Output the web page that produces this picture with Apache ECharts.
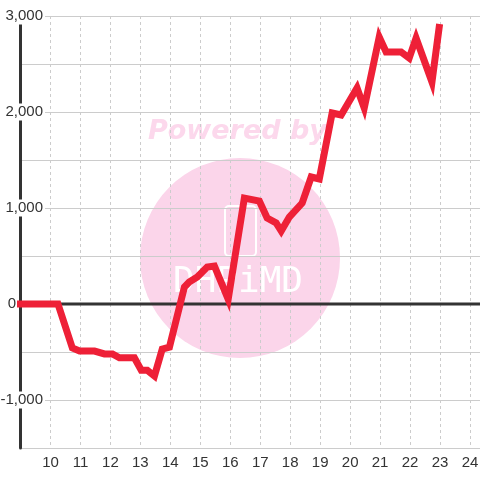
<!DOCTYPE html>
<html>
<head>
<meta charset="utf-8">
<script src="https://cdn.jsdelivr.net/npm/echarts@6/dist/echarts.min.js"></script>
<style>
  html, body { margin: 0; padding: 0; background: #fff; }
  #chart { width: 480px; height: 480px; }
</style>
</head>
<body>
<div id="chart"></div>
<script>
// x positions of each point and the running value at that point
const weekX = [9, 10.25, 10.73, 10.97, 11.47, 11.8, 12.07, 12.3, 12.8, 13.03, 13.23, 13.47, 13.73, 13.97,
  14.47, 14.63, 14.9, 15.23, 15.47, 15.93, 16.47, 16.97, 17.23, 17.53, 17.7, 17.97, 18.4, 18.7, 18.97,
  19.4, 19.7, 20.23, 20.47, 20.97, 21.2, 21.7, 21.97, 22.2, 22.73, 22.97];
const balance = [0, 0, -458, -490, -490, -520, -520, -560, -560, -690, -690, -750, -470, -450,
  177, 229, 281, 385, 396, 50, 1104, 1073, 896, 844, 760, 906, 1052, 1323, 1302,
  1990, 1969, 2250, 2042, 2781, 2625, 2625, 2562, 2771, 2312, 2880];

const xMin = 9;
const xMax = 24.333;
const yTicks = [-1000, 0, 1000, 2000, 3000];

const chart = echarts.init(document.getElementById("chart"));

const option = {
  animation: false,
  grid: { left: 20.5, right: 0, top: 16, bottom: 32, containLabel: false, outerBoundsMode: "none" },
  graphic: [
    {
      type: "circle",
      z: -10,
      shape: { cx: 240, cy: 258, r: 100 },
      style: { fill: "#fbd5ea" },
    },
    {
      type: "text",
      z: -10,
      x: 148,
      y: 118,
      style: {
        text: "Powered by",
        fill: "#fcd8ec",
        font: "italic bold 27px 'DejaVu Sans'",
      },
    },
    {
      type: "rect",
      z: -9,
      shape: { x: 225, y: 206, width: 31, height: 50, r: 4 },
      style: { fill: "none", stroke: "#fff", lineWidth: 2 },
    },
    {
      type: "text",
      z: -9,
      x: 173,
      y: 265,
      style: {
        text: "DHPiMD",
        fill: "#fff",
        font: "36px 'DejaVu Sans Mono'",
      },
    },
  ],
  xAxis: {
    type: "value",
    min: xMin,
    max: xMax,
    interval: 1,
    axisLine: { show: true, lineStyle: { color: "#ccc", width: 1 } },
    axisTick: { show: false },
    axisLabel: {
      color: "#333",
      fontSize: 15,
      fontFamily: "Liberation Sans",
      margin: 7,
      showMinLabel: false,
      showMaxLabel: false,
      formatter: (v) => (v >= 10 && v <= 24 && Number.isInteger(v) ? String(v) : ""),
    },
    splitLine: { show: true, lineStyle: { color: "#ccc", type: [3, 3], width: 1 } },
  },
  yAxis: {
    type: "value",
    min: -1500,
    max: 3000,
    interval: 500,
    axisLine: { show: true, lineStyle: { color: "#333", width: 3 } },
    axisTick: { show: false },
    axisLabel: {
      inside: true,
      align: "right",
      margin: 24.5,
      formatter: (v) => {
        if (!yTicks.includes(v)) return "";
        if (v === 0) return "{z|0}";
        return "{a|" + v.toLocaleString("en-US") + "}";
      },
      rich: {
        a: {
          color: "#333",
          fontSize: 15,
          fontFamily: "Liberation Sans",
          backgroundColor: "#fff",
          padding: [1, 2, 1, 8],
        },
        z: {
          color: "#333",
          fontSize: 15,
          fontFamily: "Liberation Sans",
          padding: [0, 29, 0, 0],
        },
      },
    },
    splitLine: { show: true, lineStyle: { color: "#ccc", width: 1 } },
  },
  series: [
    {
      name: "zero",
      type: "line",
      z: 1,
      silent: true,
      symbol: "none",
      data: [[xMin, 0], [xMax, 0]],
      lineStyle: { color: "#333", width: 3 },
    },
    {
      name: "balance",
      type: "line",
      z: 3,
      clip: false,
      symbol: "none",
      data: weekX.map((x, i) => [x, balance[i]]),
      lineStyle: { color: "#ee2037", width: 7, cap: "square", join: "miter" },
    },
  ],
};

chart.setOption(option);
</script>
</body>
</html>
